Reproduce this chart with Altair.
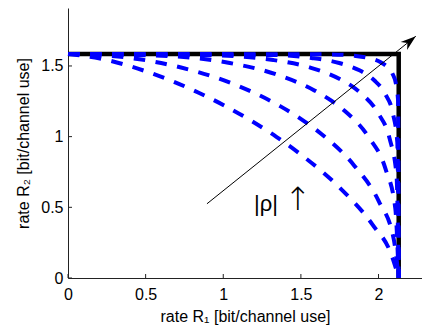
import altair as alt
import pandas as pd

# ---- data ----
box_x = [0.0, 2.13, 2.13]
box_y = [1.585, 1.585, 0.0]

curve_names = ["c1", "c2", "c3", "c4", "c5", "c6"]
c1_x = [2.13, 2.087, 1.960, 1.759, 1.493, 1.342, 1.182, 0.845, 0.510, 0.206, 0.0]
c1_y = [0.0, 0.153, 0.379, 0.629, 0.879, 0.999, 1.111, 1.309, 1.459, 1.553, 1.585]
c2_x = [2.13, 2.098, 2.002, 1.845, 1.632, 1.506, 1.369, 1.065, 0.728, 0.370, 0.0]
c2_y = [0.0, 0.275, 0.542, 0.793, 1.019, 1.121, 1.214, 1.373, 1.489, 1.561, 1.585]
c3_x = [2.13, 2.108, 2.044, 1.935, 1.783, 1.691, 1.587, 1.342, 1.042, 0.663, 0.0]
c3_y = [0.0, 0.493, 0.775, 0.999, 1.181, 1.258, 1.327, 1.440, 1.521, 1.569, 1.585]
c4_x = [2.13, 2.116, 2.072, 1.998, 1.892, 1.826, 1.750, 1.565, 1.322, 0.978, 0.0]
c4_y = [0.0, 0.728, 0.984, 1.165, 1.302, 1.359, 1.408, 1.487, 1.542, 1.574, 1.585]
c5_x = [2.13, 2.121, 2.092, 2.044, 1.974, 1.929, 1.877, 1.747, 1.568, 1.292, 0.0]
c5_y = [0.0, 0.961, 1.167, 1.300, 1.397, 1.436, 1.469, 1.521, 1.557, 1.578, 1.585]
c6_x = [2.13, 2.126, 2.112, 2.090, 2.056, 2.034, 2.008, 1.942, 1.846, 1.686, 0.0]
c6_y = [0.0, 1.255, 1.374, 1.445, 1.494, 1.513, 1.530, 1.555, 1.572, 1.582, 1.585]

arrow_x = [0.895, 2.24]
arrow_y = [0.525, 1.71]

rho_text = ["|ρ|"]
rho_x = [1.275]
rho_y = [0.527]
up_text = ["↑"]
up_x = [1.48]
up_y = [0.55]

x_ticks = [0, 0.5, 1, 1.5, 2]
y_ticks = [0, 0.5, 1, 1.5]

x_title = "rate R₁ [bit/channel use]"
y_title = "rate R₂ [bit/channel use]"

# ---- tables ----
all_x = [c1_x, c2_x, c3_x, c4_x, c5_x, c6_x]
all_y = [c1_y, c2_y, c3_y, c4_y, c5_y, c6_y]
curves = pd.DataFrame(
    [{"curve": n, "x": xv, "y": yv}
     for n, xs, ys in zip(curve_names, all_x, all_y)
     for xv, yv in zip(xs, ys)]
)
box = pd.DataFrame({"x": box_x, "y": box_y, "o": list(range(len(box_x)))})
arrow = pd.DataFrame({"x": arrow_x, "y": arrow_y})
head = pd.DataFrame({"x": arrow_x[-1:], "y": arrow_y[-1:]})
rho = pd.DataFrame({"x": rho_x, "y": rho_y, "t": rho_text})
up = pd.DataFrame({"x": up_x, "y": up_y, "t": up_text})
xt = pd.DataFrame({"x": x_ticks})
yt = pd.DataFrame({"y": y_ticks})

FONT = "Liberation Sans"
W, H = 354, 270

xscale = alt.Scale(domain=[0, 2.28], nice=False, zero=False)
yscale = alt.Scale(domain=[0, 1.91], nice=False, zero=False)
xaxis = alt.Axis(values=x_ticks, format="~g", ticks=False, grid=False,
                 domainColor="#222222", labelFont=FONT, labelFontSize=16,
                 labelColor="black", labelPadding=8, title=x_title,
                 titleFont=FONT, titleFontSize=16, titleFontWeight="normal",
                 titleColor="black", titlePadding=6, labelFlush=False)
yaxis = alt.Axis(values=y_ticks, format="~g", ticks=False, grid=False,
                 domainColor="#222222", labelFont=FONT, labelFontSize=16,
                 labelColor="black", labelPadding=5, title=y_title,
                 titleFont=FONT, titleFontSize=16, titleFontWeight="normal",
                 titleColor="black", titlePadding=9, labelFlush=False)

X = alt.X("x:Q", scale=xscale, axis=xaxis)
Y = alt.Y("y:Q", scale=yscale, axis=yaxis)

box_layer = alt.Chart(box).mark_line(color="black", strokeWidth=4.5).encode(
    x=X, y=Y, order="o:Q")

curve_layer = alt.Chart(curves).mark_line(
    color="#0000ff", strokeWidth=4, strokeDash=[11.5, 10.5], interpolate="monotone"
).encode(x=X, y=Y, detail="curve:N")

arrow_layer = alt.Chart(arrow).mark_line(color="black", strokeWidth=1).encode(x=X, y=Y)

head_layer = alt.Chart(head).mark_point(
    shape="M0,0 L0.5,1.5 L0,1.05 L-0.5,1.5 Z", size=420, angle=51,
    filled=True, color="black", opacity=1, strokeWidth=0
).encode(x=X, y=Y)

rho_layer = alt.Chart(rho).mark_text(
    font=FONT, fontSize=22, baseline="middle", align="center", color="black"
).encode(x=X, y=Y, text="t:N")

up_layer = alt.Chart(up).mark_text(
    font="DejaVu Sans", fontSize=32, fontWeight=200, baseline="middle",
    align="center", color="black"
).encode(x=X, y=Y, text="t:N")

xtick_layer = alt.Chart(xt).mark_rule(color="#222222", strokeWidth=1).encode(
    x=X, y=alt.value(H), y2=alt.value(H - 4))
ytick_layer = alt.Chart(yt).mark_rule(color="#222222", strokeWidth=1).encode(
    y=Y, x=alt.value(0), x2=alt.value(4))

chart = alt.layer(
    xtick_layer, ytick_layer, box_layer, curve_layer, arrow_layer, head_layer,
    rho_layer, up_layer
).properties(
    width=W, height=H,
    autosize=alt.AutoSizeParams(type="none"),
    padding={"left": 60, "top": 0, "right": 0, "bottom": 47},
    background="white",
).configure_view(stroke=None)

chart.save("out.html", embed_options={"renderer": "svg", "actions": False})
